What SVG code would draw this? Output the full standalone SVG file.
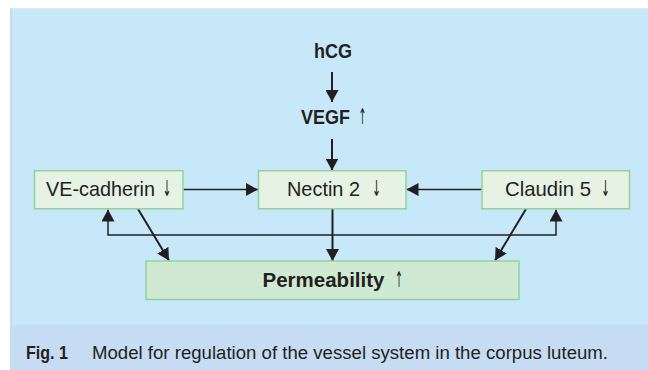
<svg xmlns="http://www.w3.org/2000/svg" width="648" height="370" viewBox="0 0 648 370">
  <style>
    .t { font-family: "Liberation Sans", Arial, sans-serif; fill: #231f20; }
    .b { font-weight: bold; }
    .ar { font-family: "DejaVu Sans", "Liberation Sans", sans-serif; font-size: 22px; fill: #231f20; }
    .box { fill: #e6f2e3; stroke: #93d39b; stroke-width: 1.5; }
    .pbox { fill: #d0e9d3; stroke: #93d39b; stroke-width: 1.5; }
    .c2 { fill: none; stroke: #231f20; stroke-width: 2; }
    .c1 { fill: none; stroke: #231f20; stroke-width: 1.5; }
  </style>
  <defs>
    <marker id="ah" markerUnits="userSpaceOnUse" markerWidth="13" markerHeight="13" refX="12" refY="6.5" orient="auto">
      <path d="M0,0 L12,6.5 L0,13 Z" fill="#231f20"/>
    </marker>
  </defs>
  <rect x="0" y="0" width="648" height="370" fill="#ffffff"/>
  <rect x="10" y="8" width="638" height="317" fill="#c6e8f9"/>
  <rect x="10" y="8" width="638" height="1" fill="#dde9ef"/>
  <rect x="10" y="8" width="2" height="317" fill="#c8dcf0"/>
  <rect x="10" y="325" width="638" height="45" fill="#c6dcf2"/>

  <g id="connectors">
    <path class="c2" d="M332,72 V102" marker-end="url(#ah)"/>
    <path class="c2" d="M332,139 V170.5" marker-end="url(#ah)"/>
    <path class="c1" d="M183.5,189.5 H258" marker-end="url(#ah)"/>
    <path class="c1" d="M481.5,189.5 H406.5" marker-end="url(#ah)"/>
    <path class="c2" d="M332.5,209 V261" marker-end="url(#ah)"/>
    <path class="c2" d="M138,209 L169,260.5" marker-end="url(#ah)"/>
    <path class="c2" d="M526,209 L495,260.5" marker-end="url(#ah)"/>
    <path class="c1" d="M332,235 H108 V209.5" marker-end="url(#ah)"/>
    <path class="c1" d="M332,235 H556 V209.5" marker-end="url(#ah)"/>
  </g>

  <g id="hcg">
    <text class="t b" x="333" y="58" font-size="21" text-anchor="middle" textLength="38" lengthAdjust="spacingAndGlyphs">hCG</text>
  </g>
  <g id="vegf">
    <text class="t b" x="301" y="124" font-size="21" textLength="49" lengthAdjust="spacingAndGlyphs">VEGF</text>
    <text class="ar" x="362.5" y="124" text-anchor="middle" textLength="8" lengthAdjust="spacingAndGlyphs">↑</text>
  </g>
  <g id="ve-cadherin">
    <rect class="box" x="34.5" y="170.75" width="148.5" height="38"/>
    <text class="t" x="46" y="196" font-size="21" textLength="109" lengthAdjust="spacingAndGlyphs">VE-cadherin</text>
    <text class="ar" x="167" y="196" text-anchor="middle" textLength="9" lengthAdjust="spacingAndGlyphs">↓</text>
  </g>
  <g id="nectin2">
    <rect class="box" x="258.5" y="170.75" width="147.5" height="38"/>
    <text class="t" x="287" y="196" font-size="21" textLength="73" lengthAdjust="spacingAndGlyphs">Nectin 2</text>
    <text class="ar" x="376.5" y="196" text-anchor="middle" textLength="9" lengthAdjust="spacingAndGlyphs">↓</text>
  </g>
  <g id="claudin5">
    <rect class="box" x="482" y="170.75" width="147.5" height="38"/>
    <text class="t" x="505" y="196" font-size="21" textLength="86" lengthAdjust="spacingAndGlyphs">Claudin 5</text>
    <text class="ar" x="605.5" y="196" text-anchor="middle" textLength="9" lengthAdjust="spacingAndGlyphs">↓</text>
  </g>
  <g id="permeability">
    <rect class="pbox" x="146" y="261" width="373" height="38.5"/>
    <text class="t b" x="262.5" y="287" font-size="21" textLength="122" lengthAdjust="spacingAndGlyphs">Permeability</text>
    <text class="ar" x="399" y="287" text-anchor="middle" textLength="8" lengthAdjust="spacingAndGlyphs">↑</text>
  </g>
  <g id="caption">
    <text class="t b" x="26" y="359" font-size="18" textLength="42" lengthAdjust="spacingAndGlyphs">Fig. 1</text>
    <text class="t" x="92" y="359" font-size="18" textLength="516" lengthAdjust="spacingAndGlyphs">Model for regulation of the vessel system in the corpus luteum.</text>
  </g>
</svg>
